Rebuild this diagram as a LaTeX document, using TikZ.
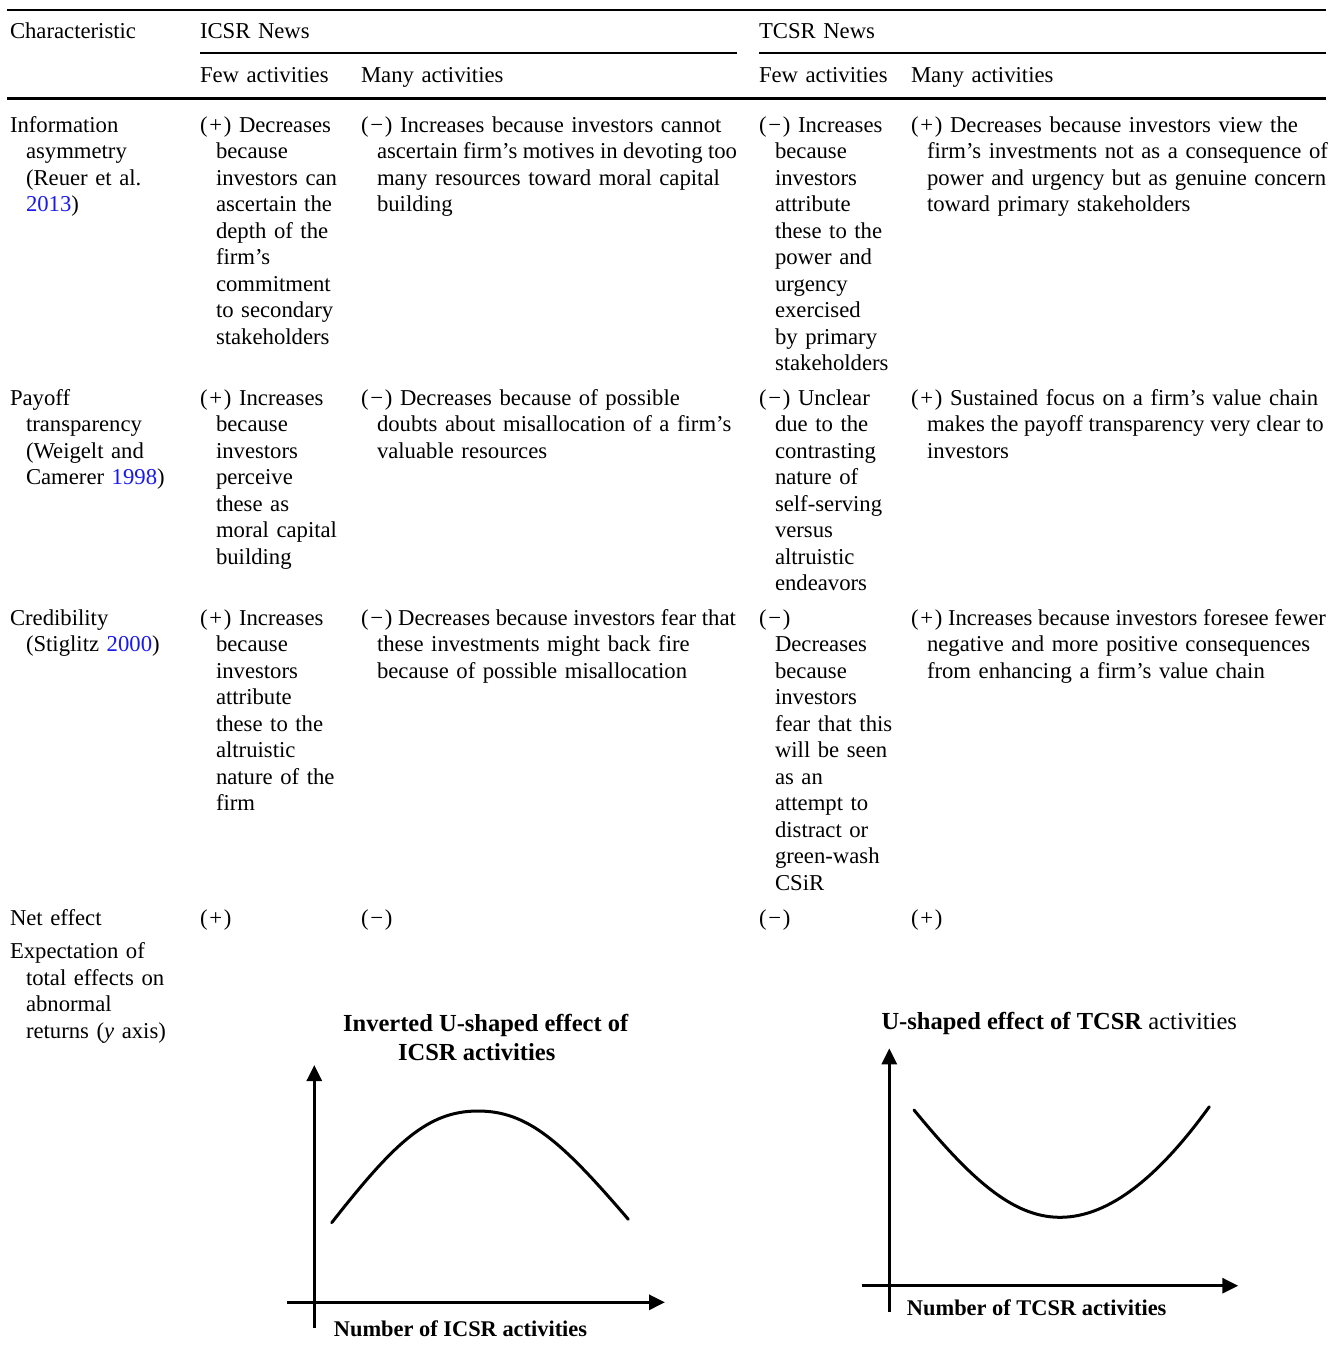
\documentclass[tikz,border=0pt]{standalone}
\usepackage{fontspec}
\setmainfont{Liberation Serif}
\usetikzlibrary{arrows.meta}
\definecolor{refblue}{RGB}{25,25,235}
\newcommand\tabfont{\fontsize{22.7}{26.5}\selectfont}
\newcommand\chfont{\fontsize{24.5}{28.3}\selectfont}
\newcommand\lbfont{\fontsize{22.4}{26}\selectfont}
\newcommand\hcell[1]{\hangindent=16pt\hangafter=1 #1\par}
\newcommand\fitto[2]{\hbox to #1{\spaceskip=0.25em minus 0.12em\relax #2}}
\newcommand\nl{\newline}
\newcommand\pl{(\hbox to 0.72em{\hss+\hss})}
\newcommand\mn{(\hbox to 0.72em{\hss−\hss})}
\newcommand\yr[1]{\textcolor{refblue}{#1}}
\tikzset{
  cell/.style={anchor=base west, inner sep=0pt, outer sep=0pt, align=left, font=\tabfont},
  wA/.style={cell, text width=190pt},
  wB/.style={cell, text width=160pt},
  wC/.style={cell, text width=400pt},
  wD/.style={cell, text width=160pt},
  wE/.style={cell, text width=430pt},
  toprule/.style={line width=2pt},
  midrule/.style={line width=1.7pt},
  bigrule/.style={line width=3pt},
  axis/.style={line width=3pt, -{Triangle[length=16pt,width=15pt]}},
  curve/.style={line width=3pt, line cap=round},
  ctitle/.style={anchor=base, inner sep=0pt, font=\chfont\bfseries},
  xlab/.style={anchor=base, inner sep=0pt, font=\lbfont\bfseries},
}
\begin{document}
\begin{tikzpicture}[x=1pt,y=-1pt]
\useasboundingbox (0,0) rectangle (1338,1349);
% rules
\draw[toprule] (7,10) -- (1326,10);
\draw[midrule] (200,53.3) -- (737,53.3);
\draw[midrule] (759,53.3) -- (1326,53.3);
\draw[bigrule] (7,98.3) -- (1326,98.3);
% header
\node[wA] (hchar) at (10,38) {Characteristic};
\node[wC] (hicsr) at (200,38) {ICSR News};
\node[wE] (htcsr) at (759,38) {TCSR News};
\node[wB] (hif) at (200,82) {Few activities};
\node[wC] (him) at (361,82) {Many activities};
\node[wD] (htf) at (759,82) {Few activities};
\node[wE] (htm) at (911,82) {Many activities};
% row 1
\node[wA] (r1a) at (10,132) {\hcell{Information\nl asymmetry\nl (Reuer et al.\nl \yr{2013})}};
\node[wB] (r1b) at (200,132) {\hcell{\pl{} Decreases\nl because\nl investors can\nl ascertain the\nl depth of the\nl firm's\nl commitment\nl to secondary\nl stakeholders}};
\node[wC] (r1c) at (361,132) {\hcell{\mn{} Increases because investors cannot\nl \fitto{360pt}{ascertain firm's motives in devoting too}\nl many resources toward moral capital\nl building}};
\node[wD] (r1d) at (759,132) {\hcell{\mn{} Increases\nl because\nl investors\nl attribute\nl these to the\nl power and\nl urgency\nl exercised\nl by primary\nl stakeholders}};
\node[wE] (r1e) at (911,132) {\hcell{\pl{} Decreases because investors view the\nl firm's investments not as a consequence of\nl power and urgency but as genuine concern\nl toward primary stakeholders}};
% row 2
\node[wA] (r2a) at (10,405) {\hcell{Payoff\nl transparency\nl (Weigelt and\nl Camerer \yr{1998})}};
\node[wB] (r2b) at (200,405) {\hcell{\pl{} Increases\nl because\nl investors\nl perceive\nl these as\nl moral capital\nl building}};
\node[wC] (r2c) at (361,405) {\hcell{\mn{} Decreases because of possible\nl doubts about misallocation of a firm's\nl valuable resources}};
\node[wD] (r2d) at (759,405) {\hcell{\mn{} Unclear\nl due to the\nl contrasting\nl nature of\nl self-serving\nl versus\nl altruistic\nl endeavors}};
\node[wE] (r2e) at (911,405) {\hcell{\pl{} Sustained focus on a firm's value chain\nl \fitto{399pt}{makes the payoff transparency very clear to}\nl investors}};
% row 3
\node[wA] (r3a) at (10,625) {\hcell{Credibility\nl (Stiglitz \yr{2000})}};
\node[wB] (r3b) at (200,625) {\hcell{\pl{} Increases\nl because\nl investors\nl attribute\nl these to the\nl altruistic\nl nature of the\nl firm}};
\node[wC] (r3c) at (361,625) {\hcell{\fitto{376pt}{\mn{} Decreases because investors fear that}\nl these investments might back fire\nl because of possible misallocation}};
\node[wD] (r3d) at (759,625) {\hcell{\mn\nl Decreases\nl because\nl investors\nl fear that this\nl will be seen\nl as an\nl attempt to\nl distract or\nl green-wash\nl CSiR}};
\node[wE] (r3e) at (911,625) {\hcell{\fitto{415pt}{\pl{} Increases because investors foresee fewer}\nl negative and more positive consequences\nl from enhancing a firm's value chain}};
% row 4
\node[wA] (r4a) at (10,925) {Net effect};
\node[wB] (r4b) at (200,925) {\pl};
\node[wC] (r4c) at (361,925) {\mn};
\node[wD] (r4d) at (759,925) {\mn};
\node[wE] (r4e) at (911,925) {\pl};
% row 5
\node[wA] (r5a) at (10,958.5) {\hcell{Expectation of\nl total effects on\nl abnormal\nl returns (\textit{y} axis)}};
% left chart
\node[ctitle] (lt1) at (485.7,1031.7) {Inverted U-shaped effect of};
\node[ctitle] (lt2) at (476.7,1060) {ICSR activities};
\node[xlab] (lxl) at (460.5,1336.7) {Number of ICSR activities};
\coordinate (ly0) at (314.3,1328);
\coordinate (ly1) at (314.3,1065);
\coordinate (lx0) at (287,1302.3);
\coordinate (lx1) at (665,1302.3);
\draw[axis] (ly0) -- (ly1);
\draw[axis] (lx0) -- (lx1);
\coordinate (lc0) at (331.7,1222.7);
\coordinate (lc1) at (478,1111);
\coordinate (lc2) at (628.3,1219.3);
\draw[curve] (lc0) .. controls (395,1142) and (428,1111) .. (lc1)
  .. controls (528,1111) and (562,1142) .. (lc2);
% right chart
\node[anchor=base, inner sep=0pt, font=\chfont] (rt1) at (1059.2,1029) {\textbf{U-shaped effect of TCSR} activities};
\node[xlab] (rxl) at (1036.7,1315) {Number of TCSR activities};
\coordinate (ry0) at (889.3,1311.7);
\coordinate (ry1) at (889.3,1048.3);
\coordinate (rx0) at (861.7,1285.7);
\coordinate (rx1) at (1238.3,1285.7);
\draw[axis] (ry0) -- (ry1);
\draw[axis] (rx0) -- (rx1);
\coordinate (rc0) at (914,1110);
\coordinate (rc1) at (1060,1217.3);
\coordinate (rc2) at (1209.3,1106.7);
\draw[curve] (rc0) .. controls (970,1178) and (1012,1217.3) .. (rc1)
  .. controls (1110,1217.3) and (1160,1175) .. (rc2);
\end{tikzpicture}
\end{document}
